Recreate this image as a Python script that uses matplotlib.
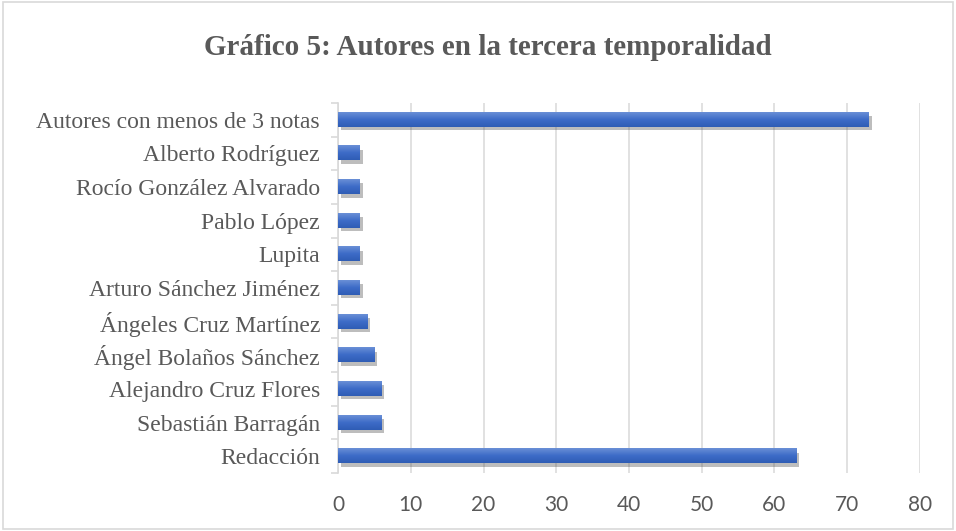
import matplotlib.pyplot as plt
import matplotlib.patheffects as pe
from matplotlib.patches import Rectangle
from matplotlib.colors import LinearSegmentedColormap
import numpy as np

# data
autores = ['Redacción', 'Sebastián Barragán', 'Alejandro Cruz Flores',
           'Ángel Bolaños Sánchez', 'Ángeles Cruz Martínez',
           'Arturo Sánchez Jiménez', 'Lupita', 'Pablo López',
           'Rocío González Alvarado', 'Alberto Rodríguez',
           'Autores con menos de 3 notas']
notas = [63, 6, 6, 5, 4, 3, 3, 3, 3, 3, 73]
xticks = [0, 10, 20, 30, 40, 50, 60, 70, 80]

gray_txt = '#595959'
grid_col = '#d9d9d9'

fig = plt.figure(figsize=(9.56, 5.31), dpi=100)
ax = fig.add_axes([0.3536, 0.1093, 0.6087, 0.6968])

y = np.arange(len(autores))
bars = ax.barh(y, notas, height=0.42, color='#3a67c4', zorder=3,
               path_effects=[pe.SimplePatchShadow(offset=(2, -2.5), shadow_rgbFace='#444444', alpha=0.35),
                             pe.Normal()])

# vertical gradient on every bar, lighter on top
grad = np.linspace(0, 1, 50).reshape(-1, 1)
cmap = LinearSegmentedColormap.from_list('bar', ['#2f5db5', '#3d6cc8', '#6a8fd6'])
for b in bars:
    x0, yb = b.get_x(), b.get_y()
    ax.imshow(grad, extent=[x0, x0 + b.get_width(), yb, yb + b.get_height()],
              origin='lower', aspect='auto', cmap=cmap, zorder=4)

ax.set_xlim(0, 80)
ax.set_ylim(-0.5, len(autores) - 0.5)
ax.set_xticks(xticks)
ax.set_xticklabels([str(v) for v in xticks], fontsize=15, color=gray_txt, family='Lato')
ax.set_yticks(y)
ax.set_yticklabels(autores, fontsize=17, color=gray_txt, family='Liberation Serif')
ax.set_yticks(np.arange(len(autores) + 1) - 0.5, minor=True)
ax.tick_params(axis='y', which='major', length=0, pad=13)
ax.tick_params(axis='y', which='minor', length=5, color=grid_col, width=1.2)
ax.tick_params(axis='x', length=0, pad=16)

ax.grid(axis='x', color=grid_col, linewidth=1.1, zorder=0)
ax.set_axisbelow(True)
for s in ['top', 'right', 'bottom']:
    ax.spines[s].set_visible(False)
ax.spines['left'].set_color(grid_col)
ax.spines['left'].set_linewidth(1.2)

fig.text(0.51, 0.91, 'Gráfico 5: Autores en la tercera temporalidad',
         ha='center', va='center', fontsize=21, fontweight='bold',
         color=gray_txt, family='Liberation Serif')

fig.patches.append(Rectangle((0.003, 0.003), 0.994, 0.994, transform=fig.transFigure,
                             fill=False, edgecolor=grid_col, linewidth=1.2))

fig.savefig('out.png', dpi=100)
